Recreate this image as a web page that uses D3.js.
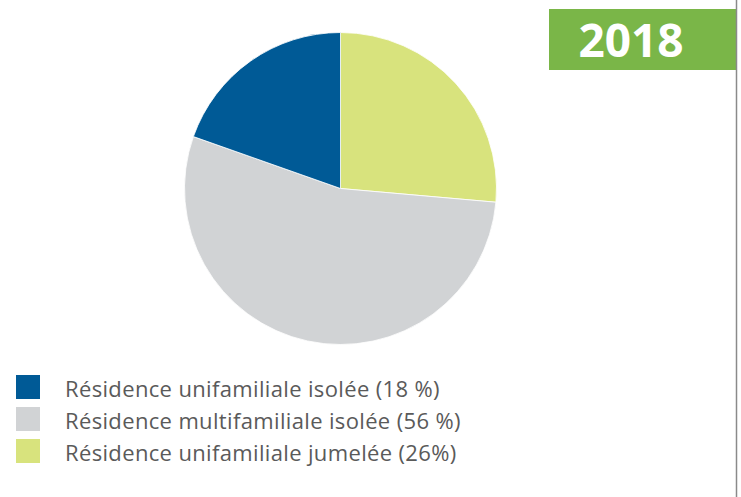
<!DOCTYPE html>
<html>
<head>
<meta charset="utf-8">
<script src="https://cdn.jsdelivr.net/npm/d3@7"></script>
<style>
  html, body { margin: 0; padding: 0; background: #fff; }
  #chart { width: 741px; height: 497px; }
</style>
</head>
<body>
<div id="chart"></div>
<script>
// legend order
const CATEGORIES = [
  "Résidence unifamiliale isolée (18 %)",
  "Résidence multifamiliale isolée (56 %)",
  "Résidence unifamiliale jumelée (26%)"
];
// slice sizes as drawn in the picture (percent)
const VALUES = [19.6, 54.0, 26.4];
const COLORS = ["#005a96", "#d1d3d5", "#d8e37d"];
// clockwise from 12 o'clock: jumelée, multifamiliale, unifamiliale isolée
const PIE_ORDER = [2, 1, 0];
const YEAR = "2018";

const W = 741, H = 497;
const cx = 340.5, cy = 188.5, R = 156;

const svg = d3.select("#chart").append("svg")
  .attr("width", W).attr("height", H)
  .style("font-family", "'Open Sans', sans-serif");

/* pie */
const pie = d3.pie().sort(null).value(i => VALUES[i]);
const arc = d3.arc().innerRadius(0).outerRadius(R);

svg.append("g").attr("transform", `translate(${cx},${cy})`)
  .selectAll("path").data(pie(PIE_ORDER)).enter().append("path")
  .attr("d", arc)
  .attr("fill", d => COLORS[d.data])
  .attr("stroke", "#fff").attr("stroke-width", 0.8);

/* year badge + right rule */
svg.append("rect").attr("x", 549).attr("y", 9).attr("width", 187).attr("height", 61)
  .attr("fill", "#7ab648");
svg.append("text").attr("x", 631).attr("y", 57).attr("text-anchor", "middle")
  .style("font-size", "46px").style("font-weight", "bold").style("fill", "#fff")
  .text(YEAR);
svg.append("line").attr("x1", 736.5).attr("x2", 736.5).attr("y1", 0).attr("y2", H)
  .attr("stroke", "#8a8a8a").attr("stroke-width", 1.5);

/* legend */
const legend = svg.append("g").attr("transform", "translate(16,375)");
CATEGORIES.forEach((c, i) => {
  const row = legend.append("g").attr("transform", `translate(0,${i * 32})`);
  row.append("rect").attr("width", 24).attr("height", 24).attr("fill", COLORS[i]);
  row.append("text").attr("x", 49).attr("y", 22)
    .style("font-size", "22px").style("letter-spacing", "0.35px").style("fill", "#5a5a5a")
    .text(c);
});
</script>
</body>
</html>
